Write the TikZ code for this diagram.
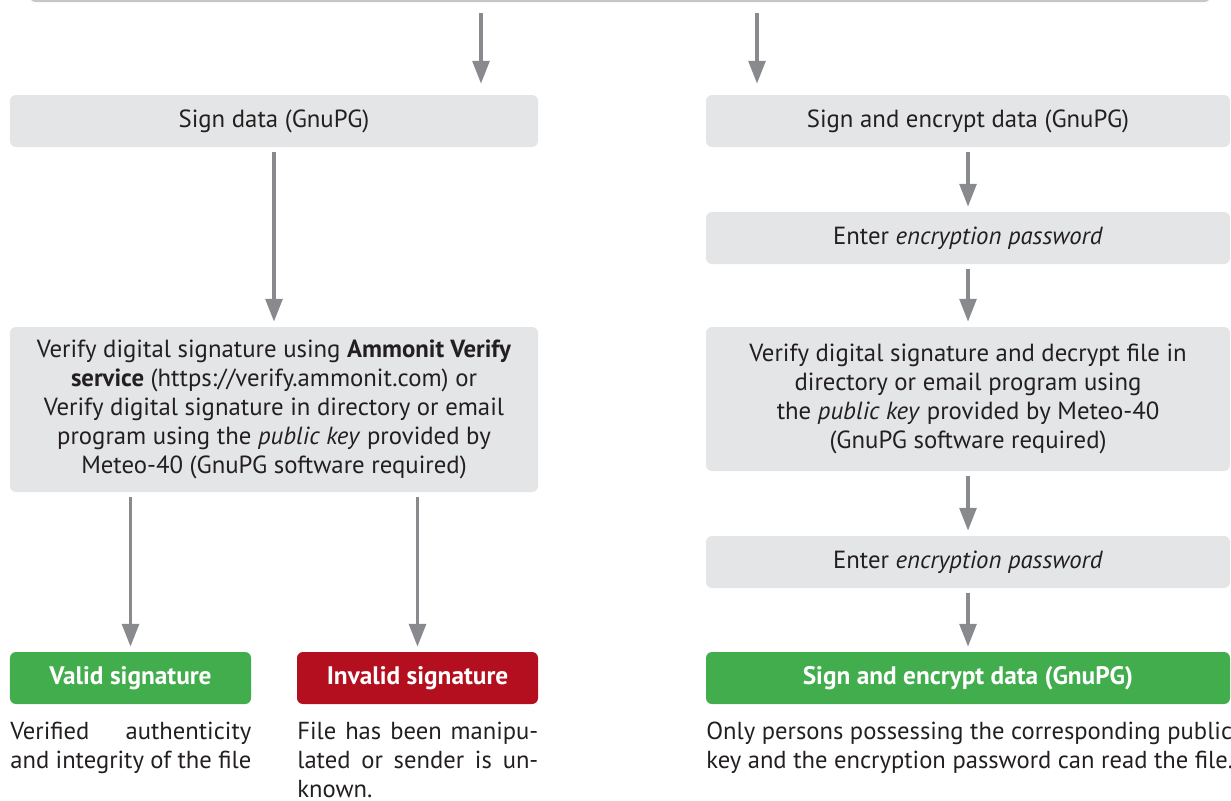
\documentclass[tikz,border=0pt]{standalone}
\usepackage{fontspec}
\setmainfont{PT Sans}
\usetikzlibrary{arrows.meta}

\definecolor{boxgray}{HTML}{E4E5E6}
\definecolor{arrowgray}{HTML}{898A8D}
\definecolor{okgreen}{HTML}{41AD4C}
\definecolor{badred}{HTML}{B40F1E}
\definecolor{txt}{HTML}{231F20}

\tikzset{
  stepbox/.style={fill=boxgray, rounded corners=3.4pt, minimum height=1.04cm,
    align=center, text=txt, font=\fontsize{14.1}{16.5}\selectfont},
  resultbox/.style={rounded corners=3.4pt, minimum height=1.04cm,
    text=white, font=\fontsize{14.4}{16.5}\selectfont\bfseries},
  note/.style={anchor=north west, inner sep=0pt, text=txt,
    font=\fontsize{14}{16.4}\selectfont},
  flow/.style={draw=arrowgray, line width=1.9pt,
    -{Triangle[length=13pt,width=9.6pt]}, shorten <=0.1cm, shorten >=0.1cm}
}

\begin{document}
\begin{tikzpicture}
\useasboundingbox (0,0) rectangle (24.62,-16.02);

% Top box (cut off)
\node (top) at (12.4,0.58) [draw=black!22, line width=1.2pt, rounded corners=3.4pt,
  minimum width=23.6cm, minimum height=1.2cm] {};
\coordinate (a1) at (9.62,0);
\coordinate (a2) at (15.14,0);

% Column 1
\node (sign) at (5.48,-2.42) [stepbox, minimum width=10.56cm] {Sign data (GnuPG)};
\node (verify) at (5.48,-8.19) [stepbox, minimum width=10.56cm, minimum height=3.3cm]
  {Verify digital signature using \textbf{Ammonit Verify}\\
   \textbf{service} (https://verify.ammonit.com) or\\
   Verify digital signature in directory or email\\
   program using the \textit{public key} provided by\\
   Meteo-40 (GnuPG software required)};
\node (valid) at (2.61,-13.56) [resultbox, fill=okgreen, minimum width=4.82cm] {Valid signature};
\node (invalid) at (8.35,-13.56) [resultbox, fill=badred, minimum width=4.82cm] {Invalid signature};
\node (validtxt) at (0.2,-14.44) [note, text width=4.82cm, align=justify]
  {Verified authenticity\linebreak and integrity of the file};
\node (invalidtxt) at (5.94,-14.44) [note, text width=4.82cm, align=justify]
  {File has been manipu-\linebreak lated or sender is un-\linebreak known.};

% Column 2
\node (signenc) at (19.36,-2.42) [stepbox, minimum width=10.48cm] {Sign and encrypt data (GnuPG)};
\node (pass1) at (19.36,-4.76) [stepbox, minimum width=10.48cm] {Enter \textit{encryption password}};
\node (decrypt) at (19.36,-7.98) [stepbox, minimum width=10.48cm, minimum height=2.88cm]
  {Verify digital signature and decrypt file in\\
   directory or email program using\\
   the \textit{public key} provided by Meteo-40\\
   (GnuPG software required)};
\node (pass2) at (19.36,-11.24) [stepbox, minimum width=10.48cm] {Enter \textit{encryption password}};
\node (readable) at (19.36,-13.56) [resultbox, fill=okgreen, minimum width=10.48cm] {Sign and encrypt data (GnuPG)};
\node (readtxt) at (14.12,-14.44) [note, align=left]
  {Only persons possessing the corresponding public\\
   key and the encryption password can read the file.};

% Arrows
\draw[flow, shorten <=0.22cm, shorten >=0.22cm] (top.south -| a1) -- (sign.north -| a1);
\draw[flow, shorten <=0.22cm, shorten >=0.22cm] (top.south -| a2) -- (signenc.north -| a2);
\draw[flow] (sign) -- (verify);
\draw[flow] (verify.south -| valid) -- (valid);
\draw[flow] (verify.south -| invalid) -- (invalid);
\draw[flow] (signenc) -- (pass1);
\draw[flow] (pass1) -- (decrypt);
\draw[flow] (decrypt) -- (pass2);
\draw[flow] (pass2) -- (readable);

\end{tikzpicture}
\end{document}
